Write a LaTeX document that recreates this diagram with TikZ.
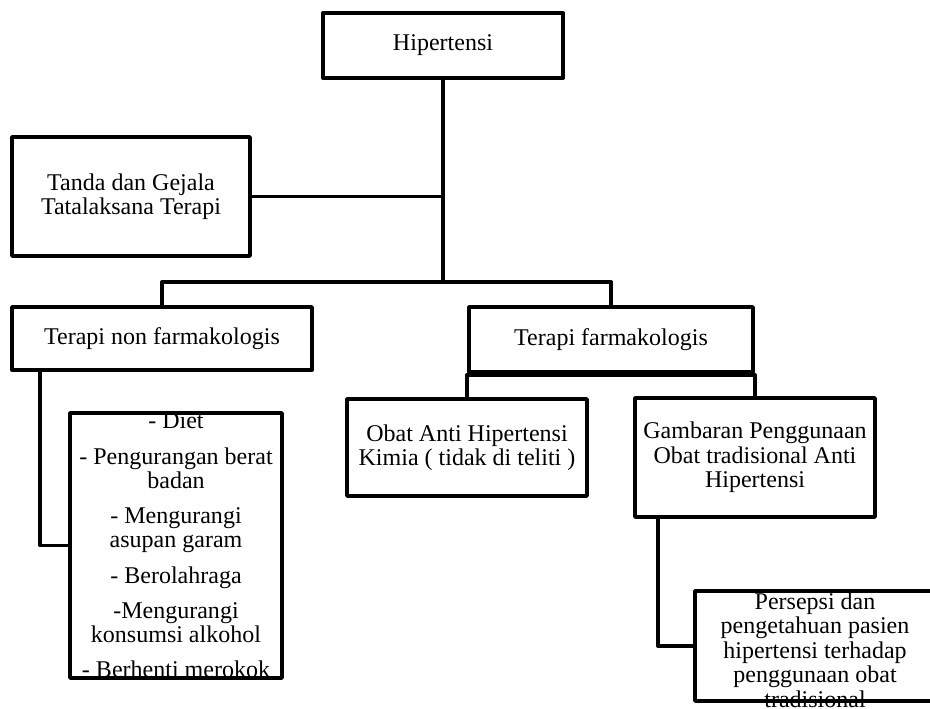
\documentclass[tikz,border=0pt]{standalone}
\usepackage{fontspec}
\setmainfont{Liberation Serif}
\usepackage{tikz}

\begin{document}
\begin{tikzpicture}[x=0.018cm,y=-0.018cm,line width=2pt,line join=round,
 font=\fontsize{12.3}{12.5}\selectfont]
 \tikzstyle{box}=[draw,rectangle,align=center,inner sep=2pt]
 \tikzstyle{txt}=[align=center,inner sep=0pt]

 \useasboundingbox (0,0) rectangle (930,709);
 \clip (0,0) rectangle (930,709);

 \node[box,minimum width=4.32cm,minimum height=1.17cm] (H) at (443,45.5) {Hipertensi};
 \node[box,minimum width=4.284cm,minimum height=2.142cm] (T) at (131,196.5)
   {Tanda dan Gejala\\Tatalaksana Terapi};
 \node[box,minimum width=5.4cm,minimum height=1.134cm] (NF) at (162,338.5) {Terapi non farmakologis};
 \node[box,minimum width=5.112cm,minimum height=1.17cm] (F) at (611,339.5) {Terapi farmakologis};
 \node[box,minimum width=4.32cm,minimum height=1.746cm] (O) at (467,447.5)
   {Obat Anti Hipertensi\\Kimia ( tidak di teliti )};
 \node[box,minimum width=4.32cm,minimum height=2.142cm] (G) at (755,457.5)
   {Gambaran Penggunaan\\Obat tradisional Anti\\Hipertensi};

 % lists run over their boxes, so the text goes first
 \node[txt] (Dtxt) at (176,545.5) {- Diet\\[5.5pt]
   - Pengurangan berat\\badan\\[5.5pt]
   - Mengurangi\\asupan garam\\[5.5pt]
   - Berolahraga\\[5.5pt]
   -Mengurangi\\konsumsi alkohol\\[5.5pt]
   - Berhenti merokok};
 \node[box,minimum width=3.816cm,minimum height=4.77cm] (D) at (176,545.5) {};
 \node[txt] (Ptxt) at (815,650) {Persepsi dan\\pengetahuan pasien\\hipertensi terhadap\\penggunaan obat\\tradisional};
 \node[box,minimum width=4.32cm,minimum height=1.98cm] (P) at (815,646) {};

 \coordinate (split) at (443,282);
 \coordinate (fsplit) at (611,375);

 \draw (H) -- (split);
 \draw (T) -- (T -| split);
 \draw (NF) |- (split) -| (F);
 \draw (O) |- (fsplit) -| (G);
 \draw ([xshift=0.54cm]NF.south west) |- (D);
 \draw ([xshift=0.45cm]G.south west) |- (P);
\end{tikzpicture}
\end{document}
